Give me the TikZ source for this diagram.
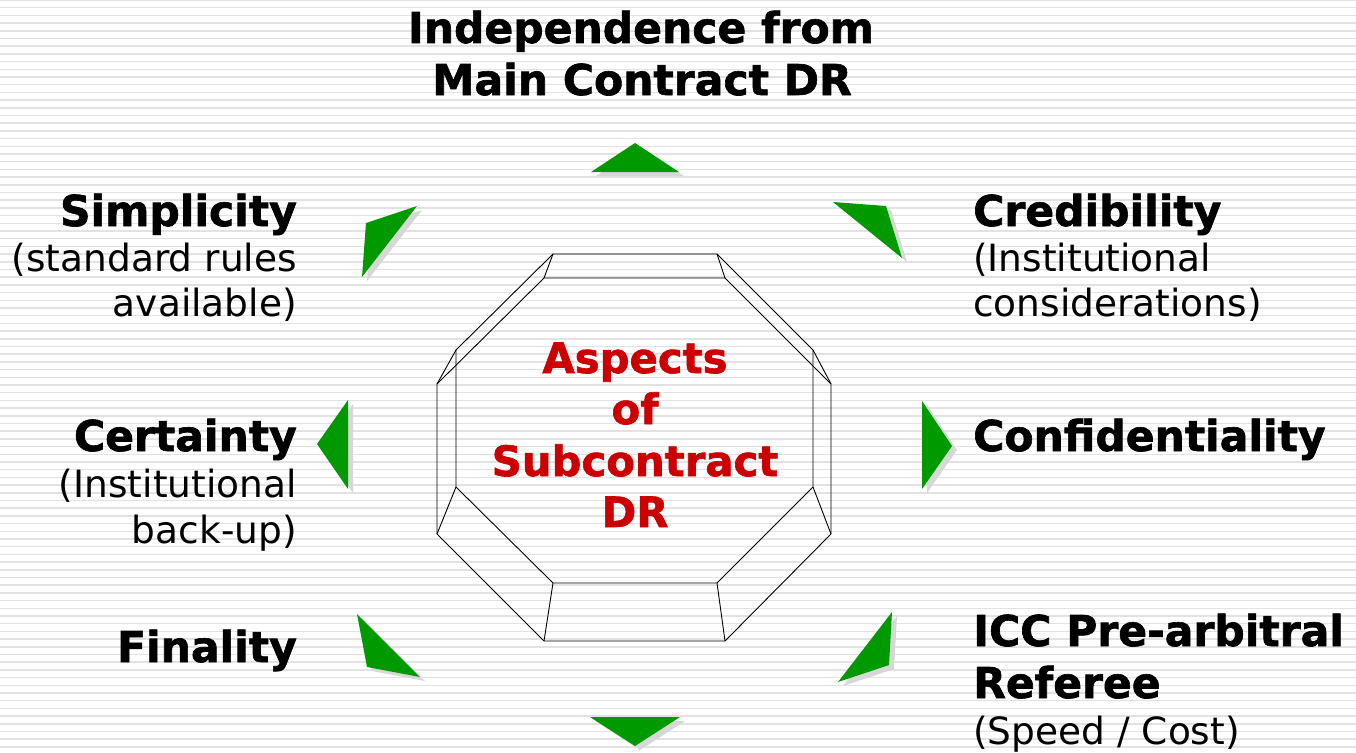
\documentclass[tikz,border=0pt]{standalone}
\usepackage{fontspec}
\setmainfont{DejaVu Sans}[BoldFeatures={FakeBold=1.5}]
\definecolor{tgreen}{RGB}{0,153,0}
\definecolor{tred}{RGB}{204,0,0}
\definecolor{stripecol}{RGB}{226,226,226}
\definecolor{shadowgray}{RGB}{215,215,215}
\begin{document}
\begin{tikzpicture}[x=1pt,y=-1pt,
  boldtxt/.style={font=\fontsize{42.5}{46}\selectfont\bfseries, inner sep=0pt},
  regtxt/.style={font=\fontsize{37.5}{46}\selectfont, inner sep=0pt},
  redtxt/.style={font=\fontsize{41.8}{46}\selectfont\bfseries, text=tred, inner sep=0pt, anchor=base},
  bgstripe/.style={draw=stripecol, line width=1.5pt},
  octline/.style={draw=black, line width=0.9pt, line join=miter},
  tri/.style={fill=tgreen},
  trishadow/.style={fill=shadowgray}]
\useasboundingbox (0,0) rectangle (1356,752);
\fill[white] (0,0) rectangle (1356,752);
\foreach \k in {0,...,98} \draw[bgstripe] (0,7.7*\k) -- (1356,7.7*\k);

% triangles: shadow then green
\foreach \a/\b/\c in {
  {(591,172)}/{(679,172)}/{(635,143)},
  {(833,202)}/{(886,206)}/{(902,258)},
  {(366,223)}/{(417,206)}/{(362,277)},
  {(317,444)}/{(348,400)}/{(348,489)},
  {(952,446)}/{(922,401)}/{(922,489)},
  {(357,614)}/{(367,667)}/{(420,677)},
  {(892,612)}/{(889,665)}/{(838,682)},
  {(590,717)}/{(680,717)}/{(635,746)}}{
  \fill[trishadow, shift={(5,4)}] \a -- \b -- \c -- cycle;
  \fill[tri] \a -- \b -- \c -- cycle;
}

% octagon (two octagons joined at corresponding corners)
\coordinate (a1) at (553,254);   \coordinate (b1) at (544,278);
\coordinate (a2) at (717,254);   \coordinate (b2) at (725,278);
\coordinate (a3) at (813,350);   \coordinate (b3) at (831,384);
\coordinate (a4) at (813,487);   \coordinate (b4) at (831,534);
\coordinate (a5) at (717,583);   \coordinate (b5) at (725,641);
\coordinate (a6) at (553,583);   \coordinate (b6) at (544,641);
\coordinate (a7) at (456,487);   \coordinate (b7) at (437,534);
\coordinate (a8) at (456,350);   \coordinate (b8) at (437,384);
\draw[octline] (a1) -- (a2) -- (a3) -- (a4) -- (a5) -- (a6) -- (a7) -- (a8) -- cycle;
\draw[octline] (b1) -- (b2) -- (b3) -- (b4) -- (b5) -- (b6) -- (b7) -- (b8) -- cycle;
\foreach \i in {1,...,8} \draw[octline] (a\i) -- (b\i);

% centre text
\node[redtxt] (c1) at (635,373) {Aspects};
\node[redtxt] (c2) at (635,424) {of};
\node[redtxt] (c3) at (635,476) {Subcontract};
\node[redtxt] (c4) at (635,527) {DR};

% top
\node[boldtxt, anchor=base] (t1) at (641,43) {Independence from};
\node[boldtxt, anchor=base] (t2) at (642,95) {Main Contract DR};

% left side
\node[boldtxt, anchor=base east] (s1) at (297,226) {Simplicity};
\node[regtxt, anchor=base east] (s2) at (297,271) {(standard rules};
\node[regtxt, anchor=base east] (s3) at (297,316) {available)};
\node[boldtxt, anchor=base east] (ce1) at (297,451) {Certainty};
\node[regtxt, anchor=base east] (ce2) at (297,497) {(Institutional};
\node[regtxt, anchor=base east] (ce3) at (297,543) {back-up)};
\node[boldtxt, anchor=base east] (f1) at (297,662) {Finality};

% right side
\node[boldtxt, anchor=base west] (cr1) at (973,226) {Credibility};
\node[regtxt, anchor=base west] (cr2) at (973,271) {(Institutional};
\node[regtxt, anchor=base west] (cr3) at (973,316) {considerations)};
\node[boldtxt, anchor=base west] (co1) at (973,451) {Confidentiality};
\node[boldtxt, anchor=base west] (i1) at (973,646) {ICC Pre-arbitral};
\node[boldtxt, anchor=base west] (i2) at (973,698) {Referee};
\node[regtxt, anchor=base west] (i3) at (973,744) {(Speed / Cost)};
\end{tikzpicture}
\end{document}
